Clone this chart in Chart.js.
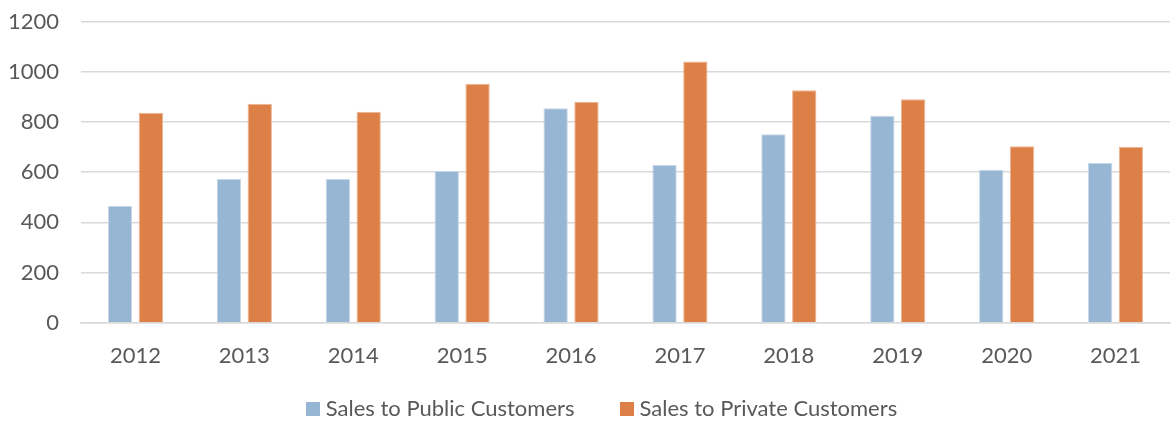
<!DOCTYPE html>
<html>
<head>
<meta charset="utf-8">
<title>Sales by Customer Type</title>
<script src="https://cdn.jsdelivr.net/npm/chart.js@4/dist/chart.umd.min.js"></script>
<style>
  html, body { margin: 0; padding: 0; background: #ffffff; }
  #wrap { width: 1171px; height: 421px; position: relative; }
</style>
</head>
<body>
<div id="wrap"><canvas id="chart"></canvas></div>
<script>
// Yearly sales, split by customer type
const years = ['2012', '2013', '2014', '2015', '2016', '2017', '2018', '2019', '2020', '2021'];
const publicSales = [465, 573, 573, 605, 855, 629, 751, 825, 610, 637];
const privateSales = [837, 873, 841, 953, 881, 1041, 927, 891, 703, 701];
const yTicks = [0, 200, 400, 600, 800, 1000, 1200];

const textColor = '#595959';
const gridColor = '#D9D9D9';
const fontFamily = 'Lato, "Open Sans", sans-serif';
const fontSize = 22;

// Legend row drawn under the axis: square swatch, small gap, label, wide gap
const bottomLegend = {
  id: 'bottomLegend',
  afterDraw(chart) {
    const ctx = chart.ctx;
    const box = 14, boxGap = 6, itemGap = 45, centerX = 601.5, centerY = 408.5;
    ctx.save();
    ctx.font = fontSize + 'px ' + fontFamily;
    ctx.textBaseline = 'middle';
    ctx.textAlign = 'left';
    const items = chart.data.datasets.map(ds => ({
      label: ds.label, color: ds.backgroundColor, w: ctx.measureText(ds.label).width
    }));
    let total = 0;
    items.forEach((it, i) => { total += box + boxGap + it.w + (i < items.length - 1 ? itemGap : 0); });
    let x = centerX - total / 2;
    items.forEach(it => {
      ctx.fillStyle = it.color;
      ctx.fillRect(Math.round(x), Math.round(centerY - box / 2), box, box);
      x += box + boxGap;
      ctx.fillStyle = textColor;
      ctx.fillText(it.label, x, centerY);
      x += it.w + itemGap;
    });
    ctx.restore();
  }
};

new Chart(document.getElementById('chart'), {
  type: 'bar',
  data: {
    labels: years,
    datasets: [
      {
        label: 'Sales to Public Customers',
        data: publicSales,
        backgroundColor: '#97B6D3',
        borderColor: '#C6D7E7',
        borderWidth: 1,
        categoryPercentage: 0.566,
        barPercentage: 0.79
      },
      {
        label: 'Sales to Private Customers',
        data: privateSales,
        backgroundColor: '#DD8047',
        borderColor: '#EDB592',
        borderWidth: 1,
        categoryPercentage: 0.566,
        barPercentage: 0.79
      }
    ]
  },
  plugins: [bottomLegend],
  options: {
    responsive: true,
    maintainAspectRatio: false,
    animation: false,
    layout: { padding: { top: 21.7, right: 1, bottom: 0, left: 0 } },
    plugins: {
      tooltip: { enabled: false },
      legend: { display: false }
    },
    scales: {
      x: {
        afterFit(scale) { scale.height = 98.3; },
        grid: { display: false },
        border: { display: true, color: gridColor, width: 1.5 },
        ticks: {
          color: textColor,
          font: { family: fontFamily, size: fontSize },
          padding: 12
        }
      },
      y: {
        min: 0,
        max: 1200,
        afterFit(scale) {
          scale.width = 81;
          scale.paddingTop = 0;
          scale.paddingBottom = 0;
        },
        afterBuildTicks(scale) { scale.ticks = yTicks.map(v => ({ value: v })); },
        grid: { color: gridColor, lineWidth: 1.5, drawTicks: false },
        border: { display: false },
        ticks: {
          color: textColor,
          font: { family: fontFamily, size: fontSize },
          padding: 22,
          callback: v => String(v)
        }
      }
    }
  }
});
</script>
</body>
</html>
